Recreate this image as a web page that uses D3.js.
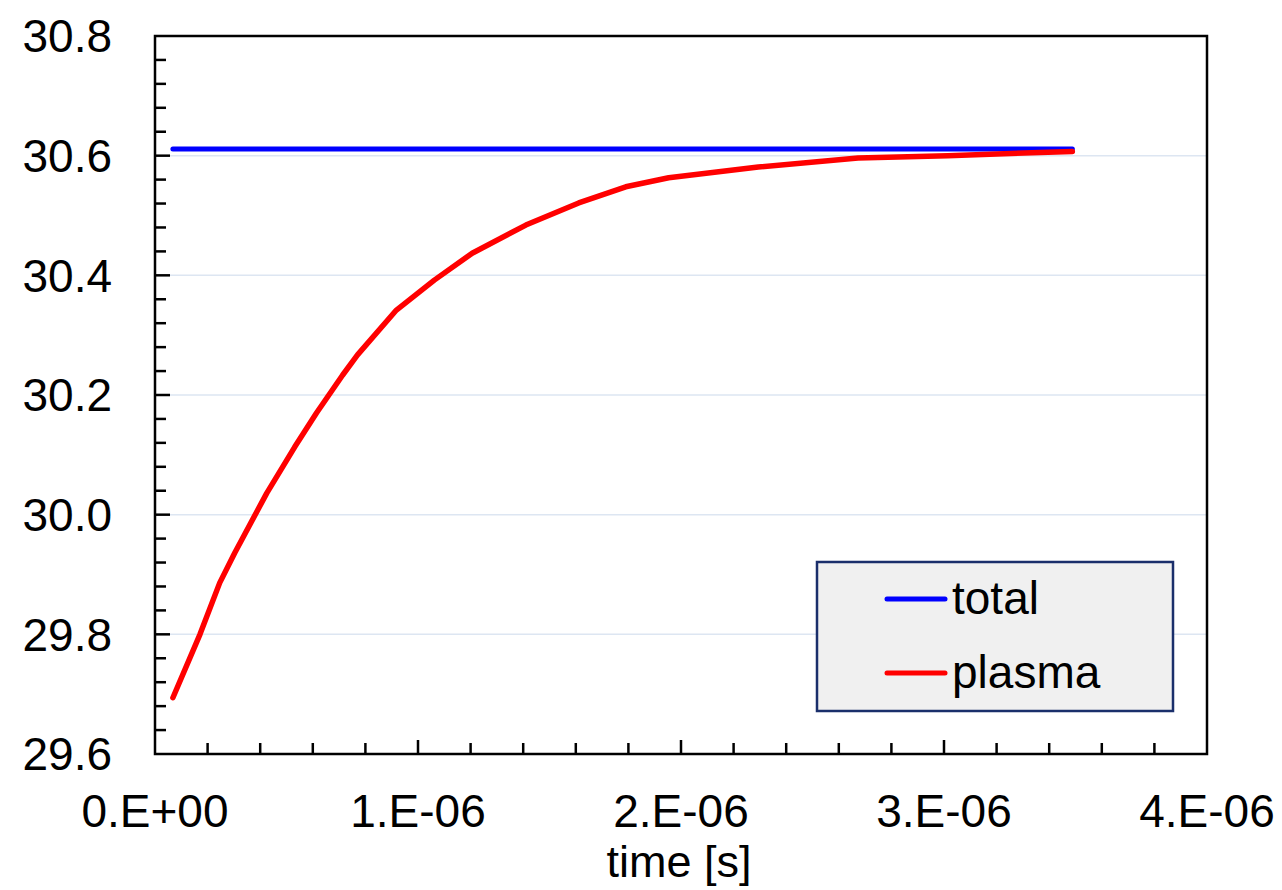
<!DOCTYPE html>
<html>
<head>
<meta charset="utf-8">
<script src="https://cdn.jsdelivr.net/npm/d3@7"></script>
<style>
  html, body { margin: 0; padding: 0; background: #fff; }
  svg { display: block; }
  text { font-family: "Liberation Sans", Arial, sans-serif; fill: #000; }
</style>
</head>
<body>
<svg id="chart" width="1282" height="890"></svg>
<script>
// ---- data (time in units of 1e-6 s) ----
const plasmaTime = [0.068, 0.171, 0.246, 0.303, 0.425, 0.531, 0.614, 0.713, 0.770, 0.918, 1.062, 1.206, 1.410, 1.611, 1.790, 1.953, 2.294, 2.673, 3.014, 3.488];
const plasmaValue = [29.694, 29.800, 29.886, 29.936, 30.036, 30.113, 30.170, 30.233, 30.267, 30.342, 30.392, 30.437, 30.484, 30.521, 30.548, 30.563, 30.581, 30.596, 30.600, 30.607];
const totalTime = [0.068, 3.488];
const totalValue = [30.611, 30.611];
const xTickValues = [0, 1, 2, 3, 4];
const xTickLabels = ["0.E+00", "1.E-06", "2.E-06", "3.E-06", "4.E-06"];
const yTickValues = [29.6, 29.8, 30.0, 30.2, 30.4, 30.6, 30.8];
const yTickLabels = ["29.6", "29.8", "30.0", "30.2", "30.4", "30.6", "30.8"];
const seriesNames = ["total", "plasma"];
const seriesColors = ["#0000ff", "#ff0000"];
const xAxisTitle = "time [s]";

// ---- layout ----
const svg = d3.select("#chart");
const L = 155, R = 1207, T = 36, B = 754;
const x = d3.scaleLinear().domain([0, 4]).range([L, R]);
const y = d3.scaleLinear().domain([29.6, 30.8]).range([B, T]);
const FS = 46;

// gridlines (major y)
svg.append("g").selectAll("line")
  .data(yTickValues.filter(v => v > 29.6 && v < 30.8))
  .join("line")
  .attr("x1", L).attr("x2", R)
  .attr("y1", d => y(d)).attr("y2", d => y(d))
  .attr("stroke", "#dde6f2").attr("stroke-width", 1.5);

// minor/major ticks
const xMinor = d3.range(0, 21).map(i => i * 0.2);
const yMinor = d3.range(0, 31).map(i => 29.6 + i * 0.04);
const isMajorX = v => Math.abs(v - Math.round(v)) < 1e-6;
const isMajorY = v => Math.abs(v * 5 - Math.round(v * 5)) < 1e-6;

const tickG = svg.append("g").attr("stroke", "#000").attr("stroke-width", 2.5);
tickG.selectAll("line.xt").data(xMinor.filter(v => v > 0 && v < 4)).join("line")
  .attr("class", "xt")
  .attr("x1", d => x(d)).attr("x2", d => x(d))
  .attr("y1", B).attr("y2", d => B - (isMajorX(d) ? 14 : 11));
tickG.selectAll("line.yt").data(yMinor.filter(v => v > 29.61 && v < 30.79)).join("line")
  .attr("class", "yt")
  .attr("y1", d => y(d)).attr("y2", d => y(d))
  .attr("x1", L).attr("x2", d => L + (isMajorY(d) ? 15 : 11));

// frame
svg.append("rect")
  .attr("x", L).attr("y", T).attr("width", R - L).attr("height", B - T)
  .attr("fill", "none").attr("stroke", "#000").attr("stroke-width", 2.5);

// tick labels
svg.append("g").selectAll("text").data(xTickValues).join("text")
  .attr("x", d => x(d)).attr("y", 827)
  .attr("text-anchor", "middle").attr("font-size", FS)
  .text((d, i) => xTickLabels[i]);
svg.append("g").selectAll("text").data(yTickValues).join("text")
  .attr("x", 112).attr("y", d => y(d))
  .attr("dy", "0.355em")
  .attr("text-anchor", "end").attr("font-size", FS)
  .text((d, i) => yTickLabels[i]);

// axis title
svg.append("text").attr("x", 679).attr("y", 877)
  .attr("text-anchor", "middle").attr("font-size", 45)
  .text(xAxisTitle);

// lines
const line = d3.line().x(d => x(d[0])).y(d => y(d[1]));
const totalData = totalTime.map((t, i) => [t, totalValue[i]]);
const plasmaData = plasmaTime.map((t, i) => [t, plasmaValue[i]]);
svg.append("path").datum(totalData).attr("d", line)
  .attr("fill", "none").attr("stroke", seriesColors[0]).attr("stroke-width", 5)
  .attr("stroke-linecap", "round");
svg.append("path").datum(plasmaData).attr("d", line)
  .attr("fill", "none").attr("stroke", seriesColors[1]).attr("stroke-width", 5.5)
  .attr("stroke-linecap", "round").attr("stroke-linejoin", "round");

// legend
const lg = svg.append("g");
lg.append("rect").attr("x", 817).attr("y", 562).attr("width", 356).attr("height", 149)
  .attr("fill", "#f0f0f0").attr("stroke", "#1a2f6b").attr("stroke-width", 2.5);
const legY = [599, 673];
seriesNames.forEach((name, i) => {
  lg.append("line").attr("x1", 887).attr("x2", 945)
    .attr("y1", legY[i]).attr("y2", legY[i])
    .attr("stroke", seriesColors[i]).attr("stroke-width", 5).attr("stroke-linecap", "round");
  lg.append("text").attr("x", 952).attr("y", legY[i] + 15)
    .attr("font-size", FS).text(name);
});
</script>
</body>
</html>
